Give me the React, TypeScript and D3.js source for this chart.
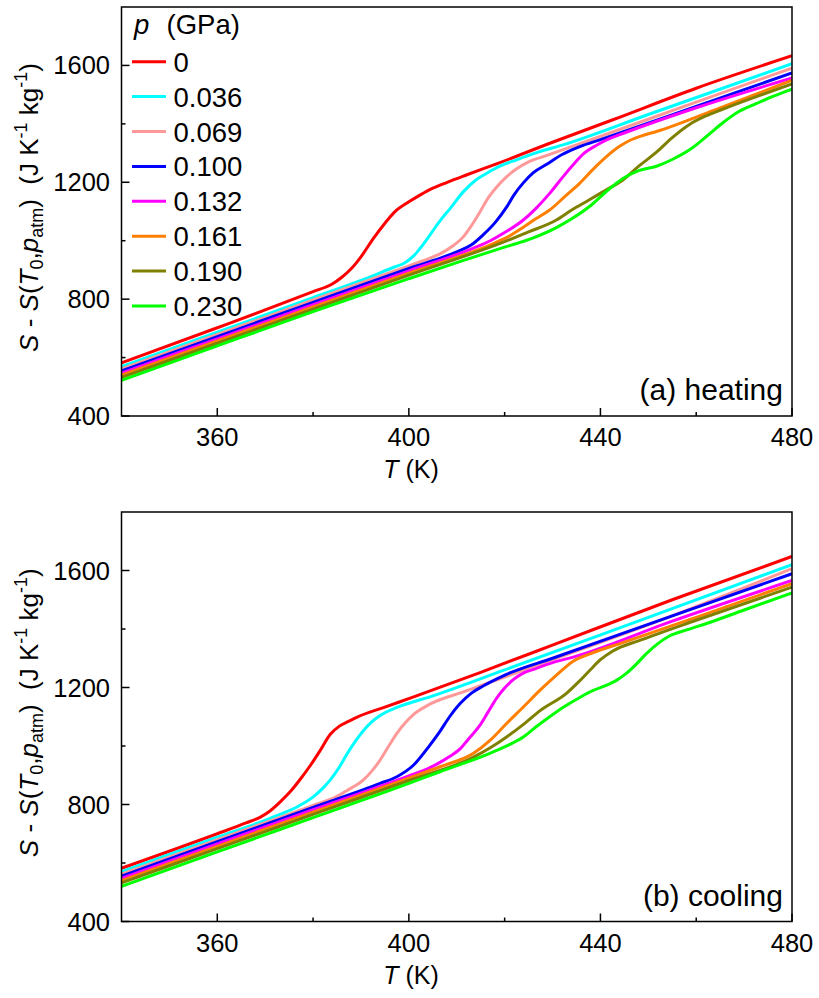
import React from "react";
import * as d3 from "d3";

// ---------- data ----------
const pressures = ["0", "0.036", "0.069", "0.100", "0.132", "0.161", "0.190", "0.230"];
const colors = ["#ff0000", "#00ffff", "#ff9999", "#0000ff", "#ff00ff", "#ff8000", "#808000", "#00ff00"];

const xTicksMajor = [360, 400, 440, 480];
const xTicksMinor = [380, 420, 460];
const yTicksMajor = [400, 800, 1200, 1600];
const yTicksMinor = [600, 1000, 1400];

// heating  [T (K), S (J K-1 kg-1)]
const heat_0: [number, number][] = [
  [340, 582], [360, 702], [370, 763], [380, 826], [384, 852], [386, 875], [388, 905], [390, 945],
  [392.6, 1008], [395, 1060], [397, 1098], [400, 1133], [402.4, 1157], [405, 1180], [408, 1200],
  [412, 1225], [418.3, 1263], [430, 1337], [442.6, 1414], [460, 1522], [480, 1633],
];
const heat_036: [number, number][] = [
  [340, 569], [360, 687], [380, 805], [390, 864], [397, 910], [399, 923], [401, 948], [402.4, 975],
  [404.5, 1022], [406.5, 1068], [408.6, 1110], [411.4, 1168], [414, 1208], [416.2, 1230], [419, 1255],
  [422.5, 1277], [427, 1303], [432.2, 1328], [450, 1432], [480, 1606],
];
const heat_069: [number, number][] = [
  [340, 561], [360, 679], [380, 797], [400, 914], [404, 938], [406.5, 955], [409, 980], [411.4, 1014],
  [413, 1050], [414.9, 1100], [416.5, 1145], [418.3, 1183], [420.5, 1220], [422.5, 1246], [425, 1270],
  [428.7, 1291], [435, 1328], [455, 1445], [480, 1591],
];
const heat_100: [number, number][] = [
  [340, 554], [360, 672], [380, 789], [400, 905], [410, 962], [413, 985], [415.5, 1020], [418, 1062],
  [420.4, 1115], [422, 1158], [423.9, 1198], [426, 1233], [428.7, 1261], [432, 1295], [435.7, 1322],
  [440, 1346], [460, 1460], [480, 1574],
];
const heat_132: [number, number][] = [
  [340, 547], [360, 664], [380, 781], [400, 897], [414, 978], [417, 1000], [420, 1028], [423.9, 1071],
  [426.5, 1110], [429.4, 1162], [432, 1215], [434.3, 1260], [436.5, 1298], [439.2, 1327], [442, 1350],
  [444.7, 1367], [460, 1455], [480, 1557],
];
const heat_161: [number, number][] = [
  [340, 540], [360, 657], [380, 773], [400, 889], [418, 993], [421, 1016], [423.9, 1046], [426.5, 1075],
  [429.4, 1105], [432.5, 1150], [435.7, 1197], [438.5, 1245], [441.2, 1287], [444, 1323], [446.1, 1343],
  [449, 1361], [451.7, 1374], [465, 1455], [480, 1549],
];
const heat_190: [number, number][] = [
  [340, 532], [360, 649], [380, 766], [400, 882], [420, 997], [425, 1030], [430.8, 1071], [434, 1105],
  [437.7, 1140], [441, 1172], [444.7, 1208], [448, 1255], [451.7, 1303], [455, 1353], [458.6, 1398],
  [462, 1427], [465.5, 1450], [472, 1490], [480, 1537],
];
const heat_230: [number, number][] = [
  [340, 522], [360, 640], [380, 757], [400, 870], [410, 925], [420, 978], [426, 1010], [430.8, 1045],
  [434, 1075], [437.7, 1117], [441, 1165], [444.7, 1213], [448, 1240], [451.7, 1255], [455, 1278],
  [458.6, 1311], [462, 1355], [465.5, 1403], [469, 1443], [472.5, 1469], [476, 1494], [480, 1519],
];

// cooling
const cool_0: [number, number][] = [
  [340, 582], [360, 700], [366, 737], [369, 757], [371, 778], [373.2, 810], [375.3, 845], [377.4, 888],
  [379.5, 935], [381.5, 985], [383.6, 1040], [385.5, 1068], [387.5, 1085], [389.1, 1098], [395, 1133],
  [401, 1168], [415, 1252], [430.8, 1350], [455, 1500], [480, 1648],
];
const cool_036: [number, number][] = [
  [340, 570], [360, 688], [370, 746], [373.2, 767], [377, 795], [380.1, 827], [382, 855], [383.6, 884],
  [385.5, 928], [387.1, 973], [389, 1020], [390.5, 1052], [392.3, 1083], [394, 1104], [397.5, 1132],
  [404.4, 1168], [420, 1260], [450, 1440], [480, 1620],
];
const cool_069: [number, number][] = [
  [340, 562], [360, 680], [380, 797], [385, 828], [387.1, 848], [390.5, 884], [392.3, 915], [394, 952],
  [395.8, 1000], [397.5, 1043], [399.3, 1080], [401, 1108], [404.4, 1143], [411.4, 1185], [430, 1295],
  [455, 1445], [480, 1606],
];
const cool_100: [number, number][] = [
  [340, 555], [360, 673], [380, 790], [394, 872], [397.5, 895], [401, 935], [404.4, 1003], [406.5, 1050],
  [408.5, 1100], [410.7, 1145], [413, 1180], [415.5, 1205], [420.4, 1245], [430, 1300], [455, 1445],
  [480, 1589],
];
const cool_132: [number, number][] = [
  [340, 547], [360, 665], [380, 782], [400, 898], [404, 923], [406.5, 944], [408.5, 964], [410.7, 990],
  [412.5, 1025], [414.9, 1072], [416.5, 1115], [418.3, 1163], [420, 1198], [421.8, 1227], [424, 1250],
  [426, 1262], [430, 1285], [434.3, 1304], [455, 1427], [480, 1566],
];
const cool_161: [number, number][] = [
  [340, 540], [360, 657], [380, 774], [400, 890], [406.5, 929], [413.5, 975], [417, 1020], [420.4, 1077],
  [424, 1135], [427.4, 1191], [431, 1245], [434.3, 1290], [437.8, 1315], [445, 1355], [460, 1440],
  [480, 1555],
];
const cool_190: [number, number][] = [
  [340, 532], [360, 649], [380, 766], [400, 882], [413.5, 962], [417, 994], [420.4, 1031], [424, 1075],
  [427.4, 1121], [432.9, 1180], [435.5, 1220], [437.8, 1259], [440, 1295], [442.6, 1325], [448.2, 1361],
  [460, 1430], [480, 1543],
];
const cool_230: [number, number][] = [
  [340, 520], [360, 638], [380, 755], [400, 872], [406.5, 912], [416.9, 975], [421, 1005], [423.9, 1031],
  [426.5, 1065], [429.4, 1100], [432.5, 1135], [435.7, 1166], [438.5, 1190], [441.2, 1207], [443.5, 1226],
  [445.4, 1248], [447.5, 1280], [449.6, 1316], [452, 1350], [454.4, 1376], [458, 1397], [462, 1418],
  [470, 1465], [480, 1523],
];

const heatingSeries = [heat_0, heat_036, heat_069, heat_100, heat_132, heat_161, heat_190, heat_230];
const coolingSeries = [cool_0, cool_036, cool_069, cool_100, cool_132, cool_161, cool_190, cool_230];

// ---------- layout ----------
const W = 819;
const H = 998;
const FONT = "'Liberation Sans', Arial, Helvetica, sans-serif";
const LEFT = 121.5;
const RIGHT = 792;

const x = d3.scaleLinear().domain([340, 480]).range([LEFT, RIGHT]);

function YTitle({ cx, cy }: { cx: number; cy: number }) {
  const fs = 26;
  const small = 18;
  const sub = 5;
  const sup = 11;
  return (
    <text
      transform={`translate(${cx},${cy}) rotate(-90)`}
      textAnchor="middle"
      fontFamily={FONT}
      fontSize={fs}
      fill="#000"
    >
      <tspan fontStyle="italic">S</tspan>
      <tspan> - </tspan>
      <tspan fontStyle="italic">S</tspan>
      <tspan>(</tspan>
      <tspan fontStyle="italic">T</tspan>
      <tspan fontSize={small} dy={sub}>0</tspan>
      <tspan dy={-sub}>,</tspan>
      <tspan fontStyle="italic">p</tspan>
      <tspan fontSize={small} dy={sub}>atm</tspan>
      <tspan dy={-sub}>)</tspan>
      <tspan>{"\u00A0\u00A0(J K"}</tspan>
      <tspan fontSize={small} dy={-sup}>-1</tspan>
      <tspan dy={sup}>{"\u00A0kg"}</tspan>
      <tspan fontSize={small} dy={-sup}>-1</tspan>
      <tspan dy={sup}>)</tspan>
    </text>
  );
}

function Panel({
  top,
  bottom,
  series,
  label,
  legend,
}: {
  top: number;
  bottom: number;
  series: [number, number][][];
  label: string;
  legend: boolean;
}) {
  const y = d3.scaleLinear().domain([400, 1800]).range([bottom, top]);
  const line = d3
    .line<[number, number]>()
    .x((d) => x(d[0]))
    .y((d) => y(d[1]))
    .curve(d3.curveMonotoneX);
  const clipId = `clip-${Math.round(top)}`;
  const tickFs = 25.5;
  return (
    <g>
      <defs>
        <clipPath id={clipId}>
          <rect x={LEFT} y={top} width={RIGHT - LEFT} height={bottom - top} />
        </clipPath>
      </defs>
      <g clipPath={`url(#${clipId})`}>
        {series.map((s, i) => (
          <path key={i} d={line(s) || ""} fill="none" stroke={colors[i]} strokeWidth={3} />
        ))}
      </g>
      <rect x={LEFT} y={top} width={RIGHT - LEFT} height={bottom - top} fill="none" stroke="#000" strokeWidth={1.5} />
      {xTicksMajor.map((t) => (
        <g key={`xm${t}`}>
          <line x1={x(t)} x2={x(t)} y1={bottom} y2={bottom - 8} stroke="#000" strokeWidth={1.5} />
          <text x={x(t)} y={bottom + 30} textAnchor="middle" fontFamily={FONT} fontSize={tickFs}>
            {t}
          </text>
        </g>
      ))}
      {xTicksMinor.map((t) => (
        <line key={`xn${t}`} x1={x(t)} x2={x(t)} y1={bottom} y2={bottom - 4} stroke="#000" strokeWidth={1.5} />
      ))}
      {yTicksMajor.map((v) => (
        <g key={`ym${v}`}>
          <line x1={LEFT} x2={LEFT + 8} y1={y(v)} y2={y(v)} stroke="#000" strokeWidth={1.5} />
          <text x={LEFT - 11.5} y={y(v) + 9} textAnchor="end" fontFamily={FONT} fontSize={tickFs}>
            {v}
          </text>
        </g>
      ))}
      {yTicksMinor.map((v) => (
        <line key={`yn${v}`} x1={LEFT} x2={LEFT + 4} y1={y(v)} y2={y(v)} stroke="#000" strokeWidth={1.5} />
      ))}
      <text x={411} y={bottom + 62} textAnchor="middle" fontFamily={FONT} fontSize={25}>
        <tspan fontStyle="italic">T</tspan>
        <tspan>{"\u00A0(K)"}</tspan>
      </text>
      <YTitle cx={38} cy={(top + bottom) / 2 - 4} />
      <text x={783} y={bottom - 16} textAnchor="end" fontFamily={FONT} fontSize={30}>
        {label}
      </text>
      {legend && (
        <g fontFamily={FONT} fontSize={27.5}>
          <text x={134} y={top + 27}>
            <tspan fontStyle="italic">p</tspan>
            <tspan x={166.5}>(GPa)</tspan>
          </text>
          {pressures.map((p, i) => {
            const yy = top + 54.7 + i * 34.9;
            return (
              <g key={p}>
                <line x1={132} x2={166} y1={yy} y2={yy} stroke={colors[i]} strokeWidth={3} />
                <text x={173.5} y={yy + 10}>
                  {p}
                </text>
              </g>
            );
          })}
        </g>
      )}
    </g>
  );
}

export default function App() {
  return (
    <svg
      width={W}
      height={H}
      style={{ position: "absolute", left: 0, top: 0, background: "#fff" }}
      xmlns="http://www.w3.org/2000/svg"
    >
      <rect x={0} y={0} width={W} height={H} fill="#fff" />
      <Panel top={7} bottom={416} series={heatingSeries} label="(a) heating" legend={true} />
      <Panel top={512} bottom={921.5} series={coolingSeries} label="(b) cooling" legend={false} />
    </svg>
  );
}
